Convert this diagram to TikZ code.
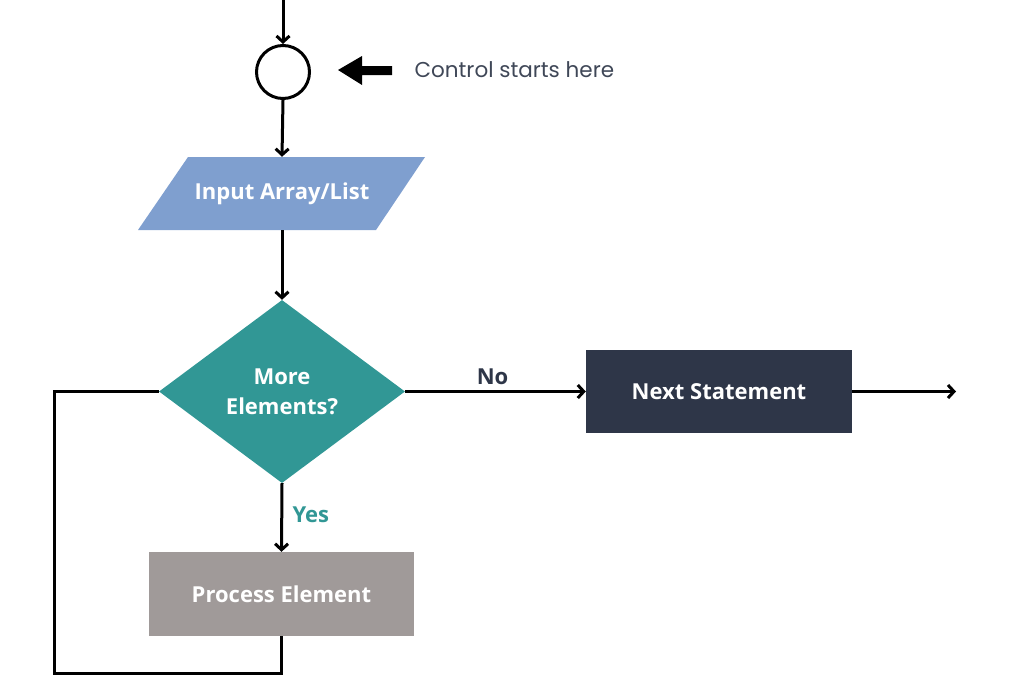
\documentclass[tikz,border=0pt]{standalone}
\usepackage{fontspec}
\setmainfont{Open Sans}
\newfontfamily\popfont{Poppins}
\usetikzlibrary{shapes.geometric,arrows.meta}
\definecolor{inpblue}{HTML}{7F9FCF}
\definecolor{tealc}{HTML}{319795}
\definecolor{darkc}{HTML}{2E3648}
\definecolor{grayc}{HTML}{A09A99}
\definecolor{txtc}{HTML}{3F4757}
\tikzset{
  conn/.style={line width=3pt, -{Straight Barb[length=6pt,width=13pt,line width=3pt]}},
  plain/.style={line width=3pt},
  lbl/.style={font=\fontsize{22}{30}\selectfont\bfseries, text=white, align=center},
  boxc/.style={rectangle, inner sep=0pt},
  edgelbl/.style={font=\fontsize{22}{26}\selectfont\bfseries},
}
\begin{document}
\begin{tikzpicture}[x=1pt,y=-1pt]
\useasboundingbox (0,0) rectangle (1024,683);
\coordinate (top) at (283,0);
\node[circle, draw, line width=3pt, minimum size=53pt, inner sep=0pt] (start) at (283,72) {};
% fat arrow
\fill (338,70) -- (362,56) -- (362,66) -- (392,66) -- (392,75) -- (362,75) -- (362,85) -- cycle;
\node[anchor=west, text=txtc, font=\popfont\fontsize{21.5}{24}\selectfont] (ctl) at (411,70) {Control starts here};
% parallelogram
\fill[inpblue] (188,157) -- (425,157) -- (376,230) -- (138,230) -- cycle;
\node[boxc, minimum width=237pt, minimum height=73pt, lbl] (inp) at (282,193.5) {Input Array/List};
% diamond
\node[diamond, fill=tealc, minimum width=246pt, minimum height=183pt, inner sep=0pt, lbl] (dec) at (282,391.5) {More\\Elements?};
% next statement
\node[boxc, fill=darkc, minimum width=266pt, minimum height=83pt, lbl] (nxt) at (719,391.5) {Next Statement};
\coordinate (out) at (956,391.5);
% process
\node[boxc, fill=grayc, minimum width=265pt, minimum height=84pt, lbl] (proc) at (281.5,594) {Process Element};
\coordinate (c1) at (54,673);
% connectors
\draw[conn] (top) -- (start.north);
\draw[conn] (start.south) -- (inp.north);
\draw[conn] (inp.south) -- (dec.north);
\draw[conn] (dec.east) -- node[above=2pt, xshift=-3pt, edgelbl, text=darkc] (no) {No} (nxt.west);
\draw[conn] (nxt.east) -- (out);
\draw[conn] (dec.south) -- node[right=6pt, yshift=3pt, edgelbl, text=tealc] (yes) {Yes} (proc.north);
\draw[plain, line join=miter] (proc.south) |- (c1) |- (dec.west);
\end{tikzpicture}
\end{document}
